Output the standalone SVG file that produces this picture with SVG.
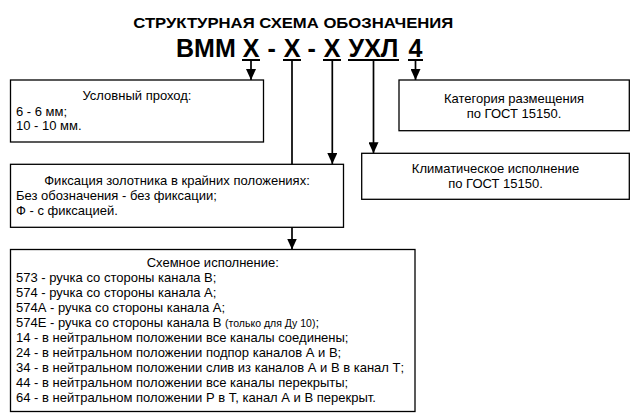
<svg xmlns="http://www.w3.org/2000/svg" width="640" height="419" viewBox="0 0 640 419">
<style>
text{font-family:"Liberation Sans",Arial,sans-serif;fill:#000}
.t{font-size:13px}
.c{text-anchor:middle}
.box{fill:#fff;stroke:#000;stroke-width:1.3}
.ln{stroke:#000;stroke-width:1.7;fill:none}
.ul{stroke:#000;stroke-width:2;fill:none}
</style>
<defs>
<marker id="ah" viewBox="0 0 11 10" refX="11" refY="5" markerWidth="11" markerHeight="10" markerUnits="userSpaceOnUse" orient="auto">
<path d="M0,0 L11,5 L0,10 z" fill="#000"/>
</marker>
</defs>
<rect width="640" height="419" fill="#fff"/>
<g id="title">
<text x="133.3" y="28.3" font-size="15.5" font-weight="bold" textLength="320" lengthAdjust="spacingAndGlyphs">СТРУКТУРНАЯ СХЕМА ОБОЗНАЧЕНИЯ</text>
<text y="56.7" font-size="25" font-weight="bold"><tspan x="176">ВММ</tspan><tspan x="251" text-anchor="middle">Х</tspan><tspan x="271.7" text-anchor="middle">-</tspan><tspan x="292" text-anchor="middle">Х</tspan><tspan x="311.7" text-anchor="middle">-</tspan><tspan x="332" text-anchor="middle">Х</tspan><tspan x="373.5" text-anchor="middle">УХЛ</tspan><tspan x="415.5" text-anchor="middle">4</tspan></text>
</g>
<g id="connectors">
<path class="ul" d="M242,60H260 M283,60H301 M323,60H341 M348,60H399 M408,60H423"/>
<line class="ln" x1="251" y1="60" x2="251" y2="80" marker-end="url(#ah)"/>
<line class="ln" x1="292" y1="60" x2="292" y2="249.5" marker-end="url(#ah)"/>
<line class="ln" x1="332.3" y1="60" x2="332.3" y2="164" marker-end="url(#ah)"/>
<line class="ln" x1="373.5" y1="60" x2="373.5" y2="153.3" marker-end="url(#ah)"/>
<line class="ln" x1="415.5" y1="60" x2="415.5" y2="80" marker-end="url(#ah)"/>
</g>
<g id="node-prohod">
<rect class="box" x="10.5" y="80" width="253" height="62"/>
<text class="t c" x="137" y="99.5">Условный проход:</text>
<text class="t" x="16" y="115.5">6 - 6 мм;</text>
<text class="t" x="16" y="130">10 - 10 мм.</text>
</g>
<g id="node-fiks">
<rect class="box" x="10.5" y="164.3" width="333" height="63"/>
<text class="t c" x="177" y="185">Фиксация золотника в крайних положениях:</text>
<text class="t" x="16" y="200">Без обозначения - без фиксации;</text>
<text class="t" x="16" y="215">Ф - с фиксацией.</text>
</g>
<g id="node-shema">
<rect class="box" x="10.5" y="249.5" width="404.5" height="162"/>
<text class="t c" x="212.8" y="266.7">Схемное исполнение:</text>
<text class="t" x="16" y="281.7">573 - ручка со стороны канала В;</text>
<text class="t" x="16" y="296.7">574 - ручка со стороны канала А;</text>
<text class="t" x="16" y="311.7">574А - ручка со стороны канала А;</text>
<text class="t" x="16" y="326.7">574Е - ручка со стороны канала В <tspan font-size="10.5">(только для Ду 10)</tspan>;</text>
<text class="t" x="16" y="341.7">14 - в нейтральном положении все каналы соединены;</text>
<text class="t" x="16" y="356.7">24 - в нейтральном положении подпор каналов А и В;</text>
<text class="t" x="16" y="371.7">34 - в нейтральном положении слив из каналов А и В в канал Т;</text>
<text class="t" x="16" y="386.7">44 - в нейтральном положении все каналы перекрыты;</text>
<text class="t" x="16" y="401.7">64 - в нейтральном положении Р в Т, канал А и В перекрыт.</text>
</g>
<g id="node-kategoriya">
<rect class="box" x="399" y="80" width="230.3" height="50.7"/>
<text class="t c" x="514" y="103.3">Категория размещения</text>
<text class="t c" x="514" y="118.3">по ГОСТ 15150.</text>
</g>
<g id="node-klimat">
<rect class="box" x="361.7" y="153.3" width="267.6" height="46"/>
<text class="t c" x="495.5" y="173.3">Климатическое исполнение</text>
<text class="t c" x="495.5" y="188.3">по ГОСТ 15150.</text>
</g>
</svg>
